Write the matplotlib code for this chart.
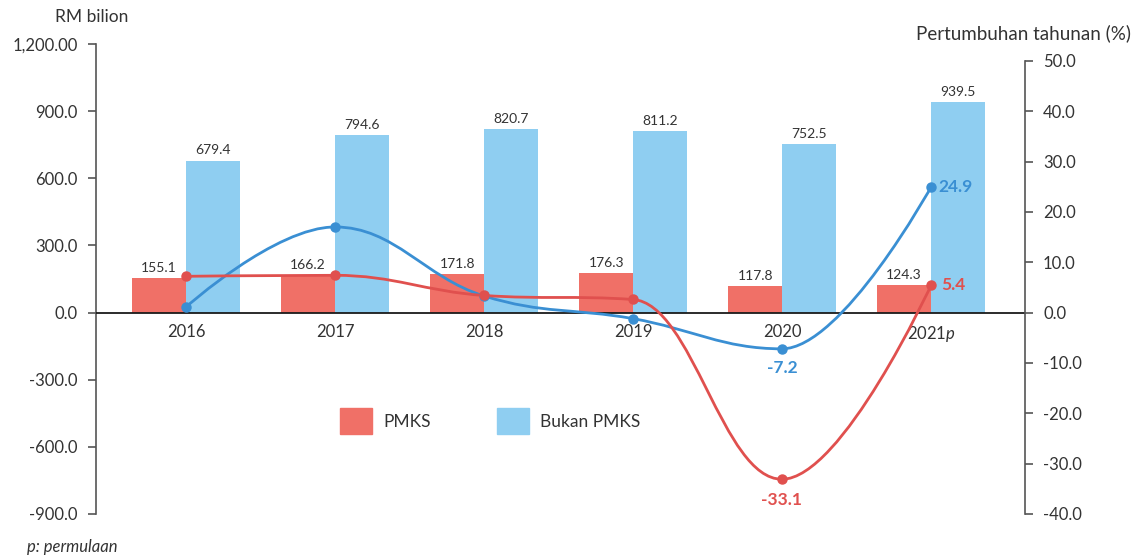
import numpy as np
import matplotlib
matplotlib.use("Agg")
import matplotlib.pyplot as plt
from matplotlib.path import Path
from matplotlib.patches import PathPatch, Patch
from matplotlib.ticker import FixedLocator, FixedFormatter

plt.rcParams['font.family'] = ['Lato', 'DejaVu Sans']
plt.rcParams['mathtext.fontset'] = 'custom'
plt.rcParams['mathtext.rm'] = 'Lato'
plt.rcParams['mathtext.it'] = 'Lato:italic'

# ---- data ----
years = ["2016", "2017", "2018", "2019", "2020", "2021$\\mathit{p}$"]
pmks = [155.1, 166.2, 171.8, 176.3, 117.8, 124.3]
bukan_pmks = [679.4, 794.6, 820.7, 811.2, 752.5, 939.5]
growth_pmks = [7.2, 7.4, 3.4, 2.6, -33.1, 5.4]
growth_bukan = [1.1, 17.0, 3.3, -1.2, -7.2, 24.9]
left_ticks = [-900, -600, -300, 0, 300, 600, 900, 1200]
left_labels = ["-900.0", "-600.0", "-300.0", "0.0", "300.0", "600.0", "900.0", "1,200.00"]
right_ticks = [-40, -30, -20, -10, 0, 10, 20, 30, 40, 50]
right_labels = ["-40.0", "-30.0", "-20.0", "-10.0", "0.0", "10.0", "20.0", "30.0", "40.0", "50.0"]

RED_BAR = "#F07067"
BLUE_BAR = "#8FCEF1"
RED_LINE = "#E0504E"
BLUE_LINE = "#3A8FD3"
TXT = "#333333"

fig = plt.figure(figsize=(11.38, 5.57), dpi=100)
W, H = 1138, 557
ax = fig.add_axes([96 / W, 1 - 514 / H, (1025 - 96) / W, (514 - 44) / H])
ax2 = ax.twinx()

x = np.arange(len(years))
bw = 0.36
ax.bar(x - bw / 2, pmks, bw, color=RED_BAR, zorder=2)
ax.bar(x + bw / 2, bukan_pmks, bw, color=BLUE_BAR, zorder=2)
for xi, v in zip(x, pmks):
    ax.text(xi - bw / 2, v + 18, f"{v:.1f}", ha="center", va="bottom", fontsize=10, color=TXT)
for xi, v in zip(x, bukan_pmks):
    ax.text(xi + bw / 2, v + 18, f"{v:.1f}", ha="center", va="bottom", fontsize=10, color=TXT)

ax.set_xlim(-0.604, 5.631)
ax.set_ylim(-900, 1200)
ax2.set_ylim(-40, 1200 / 22.5)

ax.axhline(0, color="#1a1a1a", lw=1.3, zorder=3)

# year labels just below zero line
for xi, lab in zip(x, years):
    ax.text(xi, -52, lab, ha="center", va="top", fontsize=12, color=TXT)
ax.set_xticks([])

for s in ["top", "right", "bottom"]:
    ax.spines[s].set_visible(False)
for s in ["top", "left", "bottom"]:
    ax2.spines[s].set_visible(False)
ax.spines["left"].set_color("#555555")
ax.spines["left"].set_linewidth(1.2)
ax2.spines["right"].set_color("#555555")
ax2.spines["right"].set_linewidth(1.2)
ax2.spines["right"].set_bounds(-40, 50)

ax.yaxis.set_major_locator(FixedLocator(left_ticks))
ax.yaxis.set_major_formatter(FixedFormatter(left_labels))
ax2.yaxis.set_major_locator(FixedLocator(right_ticks))
ax2.yaxis.set_major_formatter(FixedFormatter(right_labels))
ax.tick_params(axis="y", length=6, width=1.2, color="#555555", pad=7, labelsize=12, labelcolor=TXT)
ax2.tick_params(axis="y", length=6, width=1.2, color="#555555", pad=7, labelsize=12, labelcolor=TXT)


def spline_path(xs, ys, smoothing=1.5):
    """Spline with neighbour-clamped control points (no overshoot past neighbours)."""
    xs = [float(v) for v in xs]
    ys = [float(v) for v in ys]
    n = len(xs)
    denom = smoothing + 1
    left = [None] * n
    right = [None] * n
    for i in range(1, n - 1):
        px, py = xs[i], ys[i]
        lx, ly = xs[i - 1], ys[i - 1]
        nx, ny = xs[i + 1], ys[i + 1]
        lcx = (smoothing * px + lx) / denom
        lcy = (smoothing * py + ly) / denom
        rcx = (smoothing * px + nx) / denom
        rcy = (smoothing * py + ny) / denom
        corr = 0.0
        if rcx != lcx:
            corr = (rcy - lcy) * (rcx - px) / (rcx - lcx) + py - rcy
        lcy += corr
        rcy += corr
        if lcy > ly and lcy > py:
            lcy = max(ly, py); rcy = 2 * py - lcy
        elif lcy < ly and lcy < py:
            lcy = min(ly, py); rcy = 2 * py - lcy
        if rcy > ny and rcy > py:
            rcy = max(ny, py); lcy = 2 * py - rcy
        elif rcy < ny and rcy < py:
            rcy = min(ny, py); lcy = 2 * py - rcy
        left[i] = (lcx, lcy)
        right[i] = (rcx, rcy)
    verts = [(xs[0], ys[0])]
    codes = [Path.MOVETO]
    for i in range(1, n):
        c1 = right[i - 1] if right[i - 1] is not None else (xs[i - 1], ys[i - 1])
        c2 = left[i] if left[i] is not None else (xs[i], ys[i])
        verts += [c1, c2, (xs[i], ys[i])]
        codes += [Path.CURVE4] * 3
    return Path(verts, codes)


for g, col in [(growth_bukan, BLUE_LINE), (growth_pmks, RED_LINE)]:
    path = spline_path(x, g)
    ax2.add_patch(PathPatch(path, facecolor="none", edgecolor=col, lw=2.0, zorder=4))
    ax2.plot(x, g, "o", color=col, ms=6.5, zorder=5, linestyle="none")

ax2.text(x[4], growth_bukan[4] - 2.3, f"{growth_bukan[4]:.1f}", ha="center", va="top",
         fontsize=12.5, fontweight="bold", color=BLUE_LINE)
ax2.text(x[5] + 0.05, growth_bukan[5], f"{growth_bukan[5]:.1f}", ha="left", va="center",
         fontsize=12.5, fontweight="bold", color=BLUE_LINE)
ax2.text(x[4], growth_pmks[4] - 2.5, f"{growth_pmks[4]:.1f}", ha="center", va="top",
         fontsize=12.5, fontweight="bold", color=RED_LINE)
ax2.text(x[5] + 0.07, growth_pmks[5], f"{growth_pmks[5]:.1f}", ha="left", va="center",
         fontsize=12.5, fontweight="bold", color=RED_LINE)

handles = [Patch(color=RED_BAR), Patch(color=BLUE_BAR)]
ax.legend(handles, ["PMKS", "Bukan PMKS"], ncol=2, loc="center",
          bbox_to_anchor=((490 - 96) / 929, (514 - 421) / 470), frameon=False,
          fontsize=12.5, handlelength=1.85, handleheight=1.85, handletextpad=0.65,
          columnspacing=3.8, labelcolor=TXT)

fig.text(92 / W, 1 - 17 / H, "RM bilion", ha="center", va="center", fontsize=12.5, color=TXT)
fig.text(1131 / W, 1 - 33 / H, "Pertumbuhan tahunan (%)", ha="right", va="center", fontsize=13.5, color=TXT)
fig.text(27 / W, 1 - 547 / H, "p: permulaan", ha="left", va="center", fontsize=12,
         style="italic", color=TXT)

fig.savefig("out.png", dpi=100)
